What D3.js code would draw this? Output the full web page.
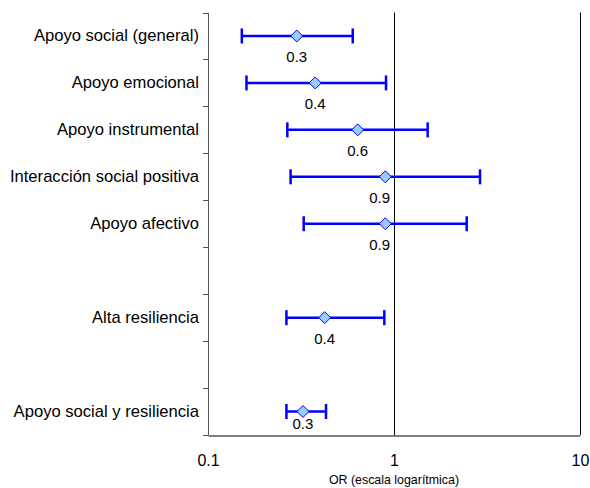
<!DOCTYPE html>
<html>
<head>
<meta charset="utf-8">
<script src="https://cdn.jsdelivr.net/npm/d3@7"></script>
<style>
  html, body { margin: 0; padding: 0; background: #fff; }
  svg { display: block; font-family: "Liberation Sans", Arial, sans-serif; }
</style>
</head>
<body>
<svg id="chart" width="590" height="488"></svg>
<script>
// ---- data ----
const categories = [
  "Apoyo social (general)",
  "Apoyo emocional",
  "Apoyo instrumental",
  "Interacción social positiva",
  "Apoyo afectivo",
  "",
  "Alta resiliencia",
  " ",
  "Apoyo social y resiliencia"
];
const orValues  = [0.30, 0.377, 0.638, 0.898, 0.898, null, 0.424, null, 0.324];
const ciLower   = [0.152, 0.161, 0.267, 0.278, 0.327, null, 0.264, null, 0.264];
const ciUpper   = [0.600, 0.906, 1.517, 2.90, 2.46, null, 0.887, null, 0.431];
const orLabels  = ["0.3", "0.4", "0.6", "0.9", "0.9", null, "0.4", null, "0.3"];
const xTickValues = [0.1, 1, 10];
const xTickLabels = ["0.1", "1", "10"];
const xTitle = "OR (escala logarítmica)";

// ---- layout ----
const svg = d3.select("#chart");
const mLeft = 208, mRight = 580, mTop = 12.5, mBottom = 435;
const FONT = "Liberation Sans, Arial, sans-serif";

const x = d3.scaleLog().domain([0.1, 10]).range([mLeft, mRight]);
const y = d3.scaleBand().domain(categories).range([mTop, mBottom]).paddingInner(0).paddingOuter(0);

const blue = "#0000ff";

// left axis
const yAxis = d3.axisLeft(y).tickSize(0).tickPadding(9);
const yg = svg.append("g").attr("transform", `translate(${mLeft},0)`).call(yAxis);
yg.select(".domain").attr("stroke", "#555").attr("stroke-width", 1);
yg.selectAll("text").attr("font-size", 16.6).attr("fill", "#000")
  .attr("font-family", FONT);
// ticks at band boundaries
const bounds = categories.map(c => y(c)).concat([mBottom]);
yg.selectAll("line.bound").data(bounds).enter().append("line")
  .attr("class", "bound")
  .attr("x1", -5).attr("x2", 0)
  .attr("y1", d => Math.round(d) + 0.5).attr("y2", d => Math.round(d) + 0.5)
  .attr("stroke", "#555").attr("stroke-width", 1);

// bottom axis
const xAxis = d3.axisBottom(x).tickValues(xTickValues)
  .tickFormat((d, i) => xTickLabels[i]).tickSize(0).tickPadding(19);
const xg = svg.append("g").attr("transform", `translate(0,${mBottom + 0.5})`).call(xAxis);
xg.select(".domain").attr("stroke", "#000").attr("stroke-width", 1.2);
xg.selectAll("text").attr("font-size", 16).attr("fill", "#000")
  .attr("font-family", FONT);

svg.append("text")
  .attr("x", x(1)).attr("y", 484)
  .attr("text-anchor", "middle")
  .attr("font-size", 12.4)
  .attr("font-family", FONT)
  .text(xTitle);

// reference lines at 1 and right border
[1, 10].forEach(v => {
  svg.append("line")
    .attr("x1", Math.round(x(v)) + 0.5).attr("x2", Math.round(x(v)) + 0.5)
    .attr("y1", mTop).attr("y2", mBottom)
    .attr("stroke", "#000").attr("stroke-width", 1);
});

// data rows
const rows = categories.map((c, i) => ({
  c, or: orValues[i], lo: ciLower[i], hi: ciUpper[i], lab: orLabels[i]
})).filter(d => d.or != null);

const r = 6;
const g = svg.append("g");
rows.forEach(d => {
  const cy = y(d.c) + y.bandwidth() / 2;
  g.append("line")
    .attr("x1", x(d.lo)).attr("x2", x(d.hi))
    .attr("y1", cy).attr("y2", cy)
    .attr("stroke", blue).attr("stroke-width", 2.5);
  [d.lo, d.hi].forEach(v => {
    g.append("line")
      .attr("x1", x(v)).attr("x2", x(v))
      .attr("y1", cy - 7.5).attr("y2", cy + 7.5)
      .attr("stroke", blue).attr("stroke-width", 2.5);
  });
  g.append("path")
    .attr("d", `M0,${-r}L${r},0L0,${r}L${-r},0Z`)
    .attr("transform", `translate(${x(d.or)},${cy})`)
    .attr("fill", "#99ccff").attr("stroke", blue).attr("stroke-width", 1);
  // label
  const lbl = g.append("text")
    .attr("y", Math.min(cy + 21, mBottom - 11))
    .attr("dy", "0.35em")
    .attr("text-anchor", "middle")
    .attr("font-size", 15)
    .attr("font-family", FONT)
    .text(d.lab);
  const w = lbl.node().getComputedTextLength();
  let lx = x(d.or);
  const maxRight = x(1) - 4;
  if (lx + w / 2 > maxRight) lx = maxRight - w / 2;
  lbl.attr("x", lx);
});
</script>
</body>
</html>
